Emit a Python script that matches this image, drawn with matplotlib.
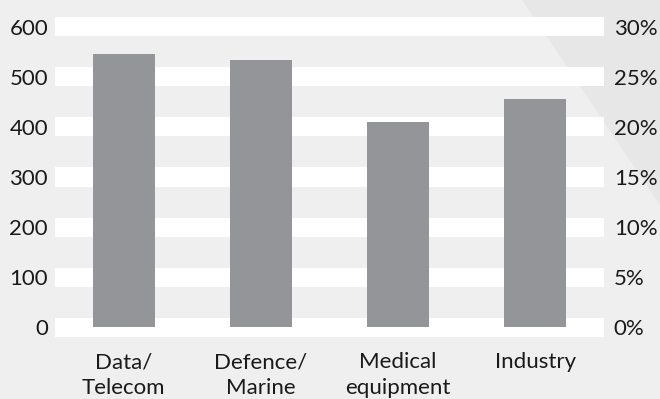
import matplotlib.pyplot as plt
from matplotlib.patches import Polygon

plt.rcParams['font.family'] = ['Lato', 'DejaVu Sans']
plt.rcParams['font.size'] = 16

categories = ['Data/\nTelecom', 'Defence/\nMarine', 'Medical\nequipment', 'Industry']
values = [546, 534, 409, 456]
left_ticks = [0, 100, 200, 300, 400, 500, 600]
right_ticks = [0, 5, 10, 15, 20, 25, 30]
right_labels = ['0%', '5%', '10%', '15%', '20%', '25%', '30%']

bg = '#efefef'
bar_color = '#939598'
text_color = '#1a1a1a'

fig = plt.figure(figsize=(6.6, 3.99), dpi=100, facecolor=bg)

# darker diagonal wedge in the top right corner (figure coords)
wedge = Polygon([(522 / 660, 1), (1, 1), (1, 1 - 205 / 399)], closed=True,
                transform=fig.transFigure, facecolor='#e7e7e7', edgecolor='none', zorder=-5)
fig.patches.append(wedge)

ax = fig.add_axes([55 / 660, 1 - 337 / 399, 549 / 660, 320 / 399])
ax.set_facecolor('none')

# white bands instead of grid lines
for v in left_ticks:
    ax.axhspan(v - 19, v + 19, color='white', lw=0, zorder=1)

x = range(len(categories))
ax.bar(x, values, width=0.45, color=bar_color, zorder=3)

ax.set_xlim(-0.5, 3.5)
ax.set_ylim(-19, 619)
ax.set_yticks(left_ticks)
ax.set_xticks(list(x))
ax.set_xticklabels(categories, linespacing=1.35)
ax.tick_params(axis='y', length=0, pad=5, colors=text_color)
ax.tick_params(axis='x', length=0, pad=11, colors=text_color)
for s in ax.spines.values():
    s.set_visible(False)

ax2 = ax.twinx()
ax2.set_ylim(-19 / 20, 619 / 20)
ax2.set_yticks(right_ticks)
ax2.set_yticklabels(right_labels)
ax2.tick_params(axis='y', length=0, pad=7, colors=text_color)
for s in ax2.spines.values():
    s.set_visible(False)

fig.savefig('out.png', dpi=100, facecolor=bg)
